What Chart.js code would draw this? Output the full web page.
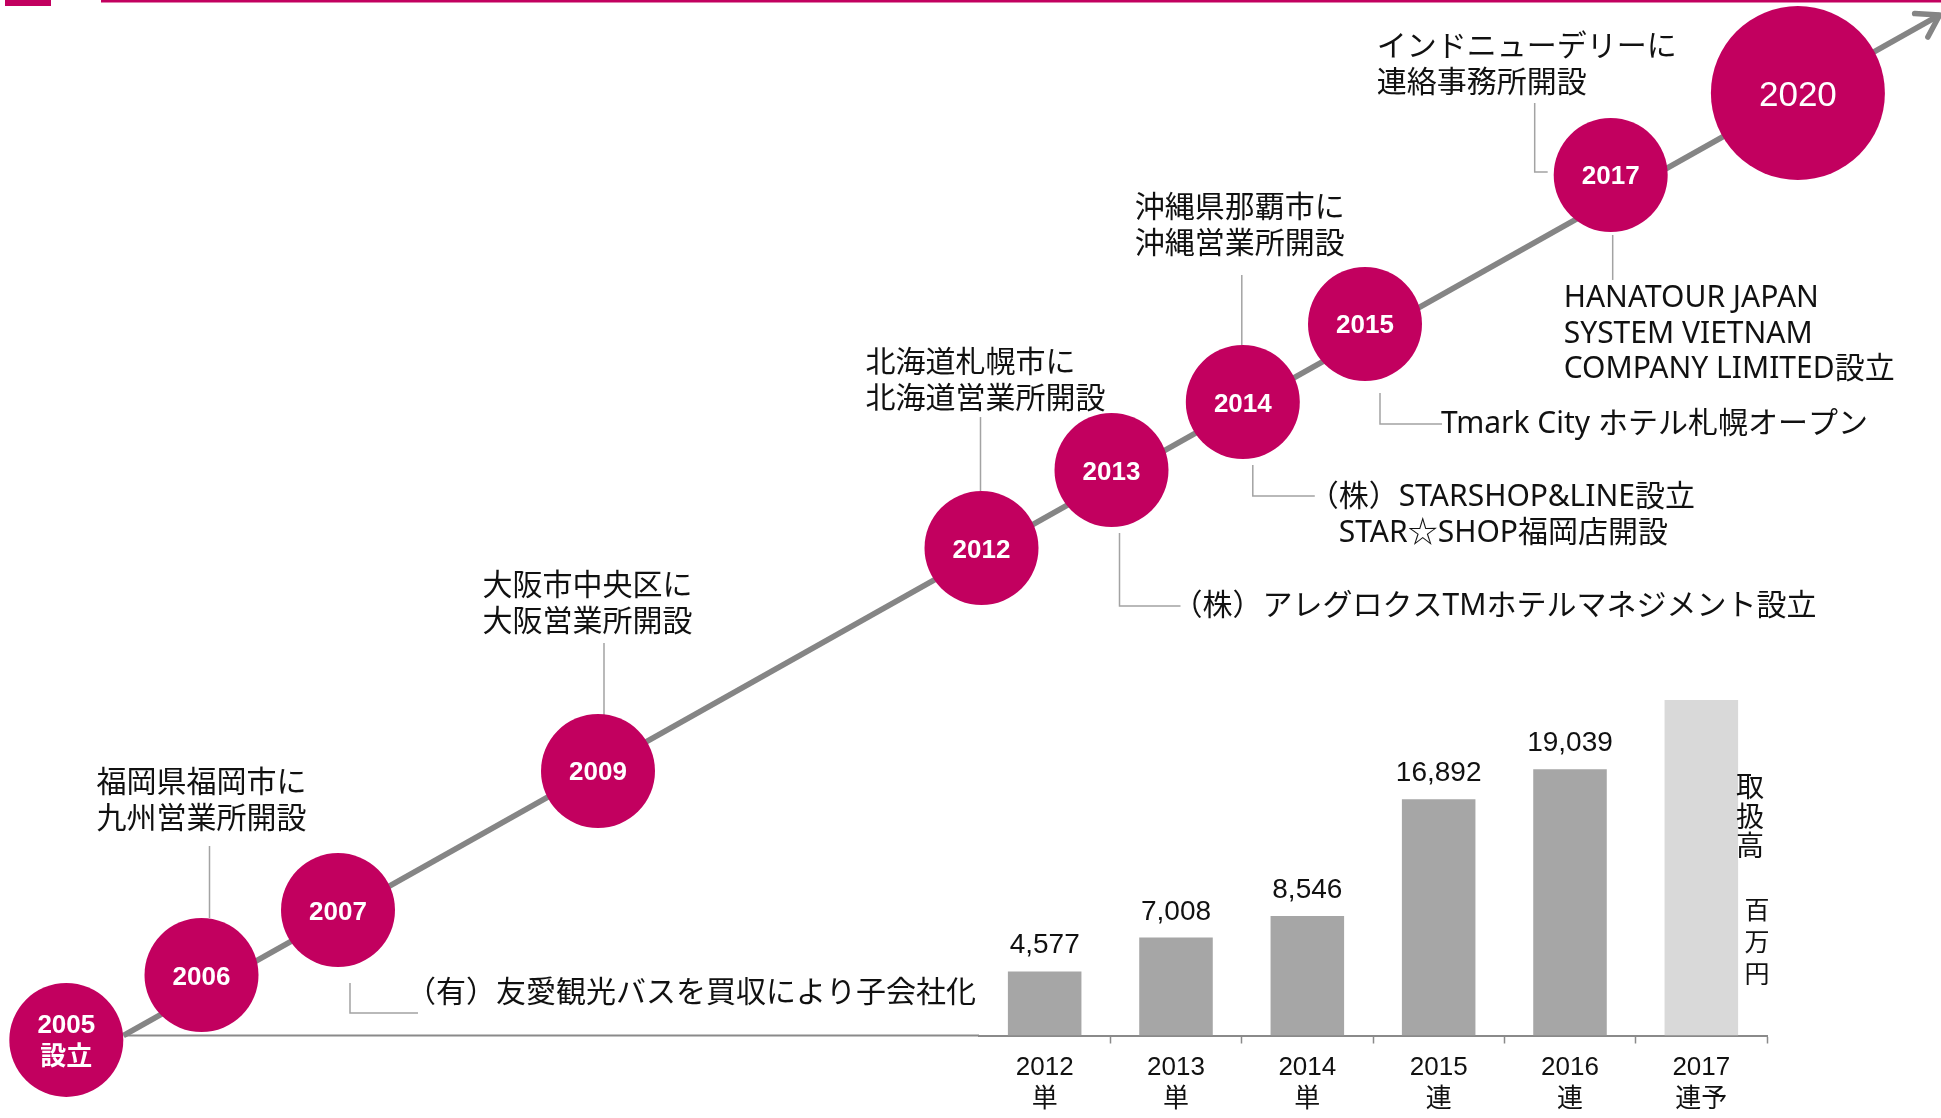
<!DOCTYPE html>
<html lang="ja">
<head>
<meta charset="utf-8">
<title>沿革と取扱高</title>
<script src="https://cdn.jsdelivr.net/npm/chart.js@4.4.1/dist/chart.umd.min.js"></script>
<style>
  html, body { margin: 0; padding: 0; background: #fff; }
  #wrap { position: relative; width: 1941px; height: 1118px; }
  #wrap canvas { position: absolute; left: 0; top: 0; }
</style>
</head>
<body>
<div id="wrap">
  <canvas id="sales" width="1941" height="1118"></canvas>
  <canvas id="history" width="1941" height="1118"></canvas>
</div>
<script>
// 取扱高（百万円）
const fiscalYears = ['2012', '2013', '2014', '2015', '2016', '2017'];
const reportBasis = ['単', '単', '単', '連', '連', '連予'];
const handlingVolume = [4577, 7008, 8546, 16892, 19039, 24000];
const volumeTitle = '取扱高';
const volumeUnit = '百万円';

// 沿革 (position on the timeline)
const milestoneLabels = [['2005', '設立'], ['2006'], ['2007'], ['2009'], ['2012'], ['2013'], ['2014'], ['2015'], ['2017'], ['2020']];
const milestoneAt = [2005.01, 2006.05, 2007.10, 2009.10, 2012.05, 2013.05, 2014.06, 2015.00, 2016.89, 2018.33];
const milestoneLevel = [6.98, 12.79, 18.60, 31.04, 50.98, 57.96, 64.04, 71.02, 84.35, 91.68];
const arrowAt = [2005.45, 2019.42];
const arrowLevel = [7.38, 98.66];

const notesAbove = [
  null,
  ['福岡県福岡市に', '九州営業所開設'],
  null,
  ['大阪市中央区に', '大阪営業所開設'],
  ['北海道札幌市に', '北海道営業所開設'],
  null,
  ['沖縄県那覇市に', '沖縄営業所開設'],
  null,
  ['インドニューデリーに', '連絡事務所開設'],
  null
];
const notesBelow = [
  null,
  null,
  ['（有）友愛観光バスを買収により子会社化'],
  null,
  null,
  ['（株）アレグロクスTMホテルマネジメント設立'],
  ['（株）STARSHOP&LINE設立', 'STAR☆SHOP福岡店開設'],
  ['Tmark City ホテル札幌オープン'],
  ['HANATOUR JAPAN', 'SYSTEM VIETNAM', 'COMPANY LIMITED設立'],
  null
];

const magenta = '#c2005f';
const axisGray = '#8a8a8a';
const lineGray = '#858585';
const stemGray = '#a3a3a3';
const ink = '#111111';
const arialFont = '"Liberation Sans", Arial, "Noto Sans CJK JP", sans-serif';
const noteFont = '"Noto Sans", "Noto Sans CJK JP", sans-serif';
const cjkFont = '"Noto Sans CJK JP", sans-serif';

// note placement relative to each circle
const aboveLayout = [
  null,
  { tx: -105, ty: -191.5, path: [[8, -129], [8, -57]] },
  null,
  { tx: -115.5, ty: -184.5, path: [[6, -128], [6, -54]] },
  { tx: -116, ty: -184.5, path: [[-1, -131], [-1, -57]] },
  null,
  { tx: -108, ty: -193.5, path: [[-1, -127], [-1, -57]] },
  null,
  { tx: -234, ty: -127.5, path: [[-76, -72], [-76, -3], [-63, -3]] },
  null
];
const belowLayout = [
  null,
  null,
  { tx: 68, ty: 83, path: [[12, 73], [12, 103], [80, 103]] },
  null,
  null,
  { tx: 61, ty: 136, path: [[8, 63], [8, 136], [69, 136]] },
  { tx: 66, ty: 95, gap: 36.5, indent: [0, 30], path: [[10, 63], [10, 94], [72, 94]] },
  { tx: 76, ty: 100, path: [[15, 69], [15, 100], [77, 100]] },
  { tx: -47, ty: 123.5, path: [[2, 60], [2, 105]] },
  null
];

const isForecast = (i) => reportBasis[i].includes('予');
const futureIndex = milestoneLabels.length - 1;

const barNotes = {
  id: 'barNotes',
  afterDatasetsDraw(chart) {
    const { ctx, chartArea } = chart;
    const meta = chart.getDatasetMeta(0);
    ctx.save();
    ctx.fillStyle = ink;
    ctx.textAlign = 'center';
    ctx.textBaseline = 'alphabetic';
    ctx.font = '28px ' + arialFont;
    meta.data.forEach((bar, i) => {
      if (isForecast(i)) return;
      ctx.fillText(handlingVolume[i].toLocaleString('en-US'), bar.x, bar.y - 18);
    });
    ctx.textBaseline = 'middle';
    ctx.font = '28px ' + cjkFont;
    [...volumeTitle].forEach((ch, k) => {
      ctx.fillText(ch, chartArea.right - 17, chartArea.bottom - 249 + k * 29.5);
    });
    ctx.font = '25px ' + cjkFont;
    [...volumeUnit].forEach((ch, k) => {
      ctx.fillText(ch, chartArea.right - 10, chartArea.bottom - 126.5 + k * 32);
    });
    ctx.restore();
  }
};

const salesChart = new Chart(document.getElementById('sales'), {
  type: 'bar',
  data: {
    labels: fiscalYears.map((y, i) => [y, reportBasis[i]]),
    datasets: [{
      label: volumeTitle,
      data: handlingVolume,
      backgroundColor: (c) => isForecast(c.dataIndex) ? '#d9d9d9' : '#a6a6a6',
      borderWidth: 0,
      barPercentage: 0.56,
      categoryPercentage: 1.0
    }]
  },
  options: {
    responsive: false,
    animation: false,
    devicePixelRatio: 1,
    layout: { padding: { left: 979, right: 174, top: 616, bottom: 0 } },
    plugins: { legend: { display: false }, tooltip: { enabled: false } },
    scales: {
      x: {
        border: { display: true, color: axisGray, width: 2 },
        grid: {
          display: true,
          drawOnChartArea: false,
          drawTicks: true,
          tickLength: 8,
          offset: true,
          tickWidth: 1.5,
          tickColor: (c) => c.index === 0 ? 'rgba(0,0,0,0)' : axisGray
        },
        ticks: {
          color: ink,
          font: { family: arialFont, size: 26, lineHeight: 1.25 },
          padding: 8,
          maxRotation: 0,
          autoSkip: false
        },
        afterFit: (scale) => { scale.height = 82.5; }
      },
      y: { display: false, min: 0, max: 30000 }
    }
  },
  plugins: [barNotes]
});

function strokePath(ctx, el, path) {
  ctx.beginPath();
  path.forEach(([dx, dy], k) => {
    if (k === 0) ctx.moveTo(el.x + dx, el.y + dy);
    else ctx.lineTo(el.x + dx, el.y + dy);
  });
  ctx.stroke();
}

function writeNote(ctx, el, lines, lay) {
  const gap = lay.gap || 35.5;
  lines.forEach((line, k) => {
    const indent = lay.indent ? lay.indent[k] : 0;
    ctx.fillText(line, el.x + lay.tx + indent, el.y + lay.ty + k * gap);
  });
}

const historyNotes = {
  id: 'historyNotes',
  beforeDatasetsDraw(chart) {
    const ctx = chart.ctx;
    const dots = chart.getDatasetMeta(1).data;
    const start = chart.getDatasetMeta(0).data[0];
    const area = salesChart.chartArea;
    ctx.save();
    // header band
    ctx.fillStyle = magenta;
    ctx.fillRect(5, 0, 46, 6);
    ctx.fillRect(101, 0, chart.width - 101, 2.5);
    // horizontal base joining the bar axis
    ctx.strokeStyle = axisGray;
    ctx.lineWidth = 2;
    ctx.beginPath();
    ctx.moveTo(start.x, area.bottom);
    ctx.lineTo(area.left, area.bottom);
    ctx.stroke();
    // connectors
    ctx.strokeStyle = stemGray;
    ctx.lineWidth = 1.5;
    dots.forEach((el, i) => {
      if (notesAbove[i]) strokePath(ctx, el, aboveLayout[i].path);
      if (notesBelow[i]) strokePath(ctx, el, belowLayout[i].path);
    });
    ctx.restore();
  },
  afterDatasetsDraw(chart) {
    const ctx = chart.ctx;
    const dots = chart.getDatasetMeta(1).data;
    const path = chart.getDatasetMeta(0).data;
    ctx.save();
    // arrow head
    const p0 = path[path.length - 2], p1 = path[path.length - 1];
    const ang = Math.atan2(p1.y - p0.y, p1.x - p0.x);
    const len = 25, spread = 0.57;
    ctx.strokeStyle = lineGray;
    ctx.lineWidth = 5.5;
    ctx.lineJoin = 'round';
    ctx.lineCap = 'round';
    ctx.beginPath();
    ctx.moveTo(p1.x + len * Math.cos(ang + Math.PI - spread), p1.y + len * Math.sin(ang + Math.PI - spread));
    ctx.lineTo(p1.x, p1.y);
    ctx.lineTo(p1.x + len * Math.cos(ang + Math.PI + spread), p1.y + len * Math.sin(ang + Math.PI + spread));
    ctx.stroke();
    // circle captions
    ctx.fillStyle = '#ffffff';
    ctx.textAlign = 'center';
    ctx.textBaseline = 'alphabetic';
    dots.forEach((el, i) => {
      const lines = milestoneLabels[i];
      const future = i === futureIndex;
      ctx.font = future ? '35px ' + arialFont : 'bold 26px ' + arialFont;
      const base = future ? 12.5 : 9.5;
      lines.forEach((line, k) => {
        ctx.fillText(line, el.x, el.y + base + (k - (lines.length - 1) / 2) * 32);
      });
    });
    // notes
    ctx.fillStyle = ink;
    ctx.textAlign = 'left';
    ctx.textBaseline = 'middle';
    ctx.font = '30px ' + noteFont;
    dots.forEach((el, i) => {
      if (notesAbove[i]) writeNote(ctx, el, notesAbove[i], aboveLayout[i]);
      if (notesBelow[i]) writeNote(ctx, el, notesBelow[i], belowLayout[i]);
    });
    ctx.restore();
  }
};

new Chart(document.getElementById('history'), {
  type: 'scatter',
  data: {
    datasets: [
      {
        label: 'timeline',
        data: arrowAt.map((x, i) => ({ x, y: arrowLevel[i] })),
        showLine: true,
        borderColor: lineGray,
        borderWidth: 5.5,
        pointRadius: 0,
        clip: false,
        order: 2
      },
      {
        label: 'milestones',
        data: milestoneAt.map((x, i) => ({ x, y: milestoneLevel[i] })),
        backgroundColor: magenta,
        borderWidth: 0,
        pointRadius: (c) => c.dataIndex === futureIndex ? 87 : 57,
        pointHoverRadius: (c) => c.dataIndex === futureIndex ? 87 : 57,
        clip: false,
        order: 1
      }
    ]
  },
  options: {
    responsive: false,
    animation: false,
    devicePixelRatio: 1,
    layout: { padding: 0, autoPadding: false },
    plugins: { legend: { display: false }, tooltip: { enabled: false } },
    scales: {
      x: { type: 'linear', display: false, min: 2004.5, max: 2019.4308 },
      y: { type: 'linear', display: false, min: 0, max: 100 }
    }
  },
  plugins: [historyNotes]
});
</script>
</body>
</html>
